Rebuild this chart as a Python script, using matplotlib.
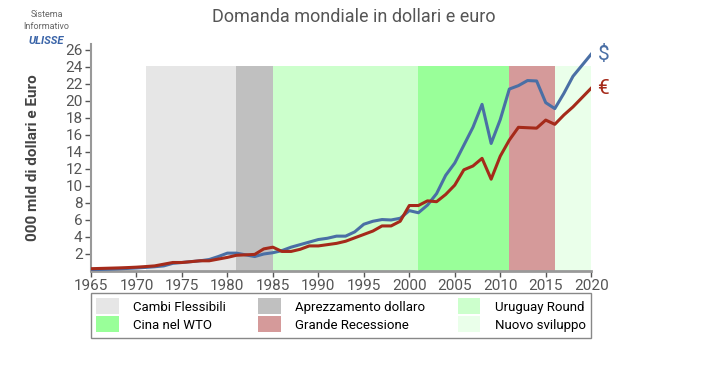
import matplotlib
matplotlib.use("Agg")
import matplotlib.pyplot as plt
from matplotlib.patches import Patch

plt.rcParams['font.family'] = ['Roboto', 'DejaVu Sans']

years = list(range(1965, 2021))
dollari = [0.15, 0.18, 0.21, 0.25, 0.3, 0.35, 0.42, 0.5, 0.6, 0.9, 1.0,
           1.1, 1.2, 1.35, 1.7, 2.1, 2.1, 1.9, 1.7, 2.0, 2.15,
           2.4, 2.8, 3.1, 3.4, 3.7, 3.85, 4.1, 4.1, 4.6, 5.5,
           5.85, 6.05, 6.0, 6.2, 7.1, 6.85, 7.75, 9.1, 11.25, 12.7,
           14.8, 16.9, 19.6, 15.0, 17.8, 21.4, 21.8, 22.4, 22.35, 19.8,
           19.1, 20.9, 22.9, 24.2, 25.5]
euro = [0.27, 0.3, 0.33, 0.36, 0.4, 0.45, 0.52, 0.6, 0.8, 1.0, 1.0,
        1.1, 1.2, 1.2, 1.4, 1.6, 1.85, 1.9, 1.95, 2.6, 2.8,
        2.3, 2.3, 2.55, 2.95, 2.95, 3.1, 3.25, 3.5, 3.9, 4.3,
        4.7, 5.3, 5.3, 5.85, 7.7, 7.7, 8.25, 8.15, 9.0, 10.1,
        11.9, 12.35, 13.25, 10.8, 13.5, 15.4, 16.9, 16.85, 16.8, 17.75,
        17.25, 18.35, 19.3, 20.4, 21.5]

# periodi storici (inizio, fine, nome, colore)
periodi = ["Cambi Flessibili", "Aprezzamento dollaro", "Uruguay Round",
           "Cina nel WTO", "Grande Recessione", "Nuovo sviluppo"]
inizio = [1971, 1981, 1985, 2001, 2011, 2016]
fine = [1981, 1985, 2001, 2011, 2016, 2020]
colori = ["#e6e6e6", "#c0c0c0", "#ccffcc", "#99ff99", "#d59a9a", "#eaffea"]

fig = plt.figure(figsize=(7.08, 3.69), dpi=100)
ax = fig.add_axes([0.1285, 0.2656, 0.7065, 0.6152])

for a, b, c in zip(inizio, fine, colori):
    ax.fill_between([a, b], 0, 24.1, color=c, lw=0, zorder=1)

ax.plot(years, dollari, color="#4a6fa5", lw=2.2, zorder=3)
ax.plot(years, euro, color="#a52a1a", lw=2.2, zorder=3)

ax.text(2020.7, dollari[-1], "$", color="#4a6fa5", fontsize=15,
        va="center", ha="left")
ax.text(2020.6, euro[-1], "€", color="#a52a1a", fontsize=15,
        va="center", ha="left")

ax.set_xlim(1965, 2020)
ax.set_ylim(0, 26.7)
ax.set_xticks(range(1965, 2021, 5))
ax.set_yticks(range(2, 27, 2))
ax.tick_params(colors="#555555", labelsize=11, length=4, width=1, pad=2)
for s in ["top", "right"]:
    ax.spines[s].set_visible(False)
ax.spines["left"].set_color("#999999")
ax.spines["left"].set_linewidth(1.5)
ax.spines["bottom"].set_color("#999999")
ax.spines["bottom"].set_linewidth(2)

ax.set_ylabel("000 mld di dollari e Euro", fontsize=11, fontweight="bold",
              color="#444444", labelpad=18)
fig.text(0.5, 0.94, "Domanda mondiale in dollari e euro", ha="center",
         fontsize=13, color="#555555")

# logo
fig.text(0.066, 0.955, "Sistema", ha="center", fontsize=6.5, color="#666666")
fig.text(0.066, 0.922, "Informativo", ha="center", fontsize=6.5, color="#666666")
fig.text(0.066, 0.88, "ULISSE", ha="center", fontsize=8, color="#3a64a8",
         fontweight="bold", fontstyle="italic")

handles = [Patch(facecolor=c, edgecolor="none") for c in colori]
order = [0, 3, 1, 4, 2, 5]
leg = fig.legend([handles[i] for i in order], [periodi[i] for i in order],
                 ncol=3, loc="upper left", bbox_to_anchor=(0.1285, 0.084, 0.7065, 0.122),
                 mode="expand", fontsize=9.5, frameon=True, fancybox=False,
                 framealpha=1, handlelength=1.7, handleheight=1.5, borderpad=0.4,
                 labelspacing=0.15, handletextpad=1.1, borderaxespad=0)
leg.get_frame().set_edgecolor("#888888")
leg.get_frame().set_linewidth(1)

fig.savefig("out.png", dpi=100)
